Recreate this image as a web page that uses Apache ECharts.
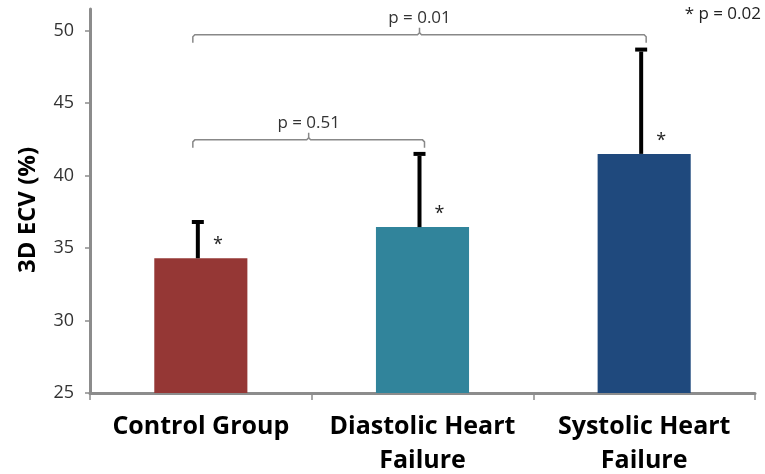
<!DOCTYPE html>
<html>
<head>
<meta charset="utf-8">
<script src="https://cdn.jsdelivr.net/npm/echarts@6/dist/echarts.min.js"></script>
<style>
  html, body { margin: 0; padding: 0; background: #fff; }
  #chart { width: 765px; height: 474px; }
</style>
</head>
<body>
<div id="chart"></div>
<script>
// 数据
const categories = ['Control Group', 'Diastolic Heart\nFailure', 'Systolic Heart\nFailure']
const means = [34.3, 36.45, 41.5]
const errTops = [36.8, 41.5, 48.7]
const barColors = ['#953735', '#31849B', '#1F497D']
// brackets: [from index, to index, y value, label]
const brackets = [
  [0, 2, 49.72, 'p = 0.01'],
  [0, 1, 42.47, 'p = 0.51']
]
const yTicks = [25, 30, 35, 40, 45, 50]

const chart = echarts.init(document.getElementById('chart'))

const axisGray = '#8c8c8c'
const font = 'Open Sans'

function renderErr(params, api) {
  const base = api.coord([api.value(0), api.value(1)])
  const top = api.coord([api.value(0), api.value(2)])
  const x = base[0] - 3
  return {
    type: 'group',
    children: [
      { type: 'line', shape: { x1: x, y1: base[1], x2: x, y2: top[1] + 2 }, style: { stroke: '#000', lineWidth: 4 } },
      { type: 'rect', shape: { x: x - 6, y: top[1] - 2, width: 12, height: 4 }, style: { fill: '#000' } },
      { type: 'text', x: base[0] + 17, y: base[1] - 13, style: { text: '*', fill: '#222', font: '18px ' + font, align: 'center', verticalAlign: 'middle' } }
    ]
  }
}

function renderBracket(params, api) {
  const l = api.coord([api.value(0), api.value(2)])
  const r = api.coord([api.value(1), api.value(2)])
  const y = l[1]
  const lx = l[0] - 8
  const rx = r[0] + 2
  const mid = (lx + rx) / 2
  const st = { stroke: '#888', lineWidth: 1.5, fill: null }
  return {
    type: 'group',
    children: [
      { type: 'polyline', shape: { points: [[lx, y + 8], [lx, y + 2], [lx + 2, y], [mid - 2, y], [mid, y - 2], [mid, y - 7]] }, style: st },
      { type: 'polyline', shape: { points: [[mid, y - 2], [mid + 2, y], [rx - 2, y], [rx, y + 2], [rx, y + 8]] }, style: st },
      { type: 'text', x: mid, y: y - 8, style: { text: brackets[params.dataIndex][3], fill: '#333', font: '17px ' + font, align: 'center', verticalAlign: 'bottom' } }
    ]
  }
}

const option = {
  animation: false,
  grid: { left: 90, right: 10, top: 9, bottom: 81, outerBoundsMode: 'none' },
  xAxis: {
    type: 'category',
    data: categories,
    axisLine: { lineStyle: { color: axisGray, width: 3 } },
    axisTick: { show: true, length: 7, lineStyle: { color: axisGray, width: 1.5 } },
    axisLabel: { interval: 0, hideOverlap: false, color: '#000', fontFamily: font, fontWeight: 'bold', fontSize: 25, lineHeight: 34, margin: 17 }
  },
  yAxis: {
    type: 'value',
    min: 25,
    max: 51.5,
    interval: 5,
    name: '3D ECV (%)',
    nameLocation: 'middle',
    nameGap: 50,
    nameTextStyle: { color: '#000', fontFamily: font, fontWeight: 'bold', fontSize: 24, padding: [0, 18, 0, 0] },
    axisLine: { show: true, lineStyle: { color: axisGray, width: 3 } },
    axisTick: { show: true, length: 5, lineStyle: { color: axisGray, width: 1.5 } },
    splitLine: { show: false },
    axisLabel: {
      color: '#333', fontFamily: font, fontSize: 18, margin: 16, showMaxLabel: false,
      formatter: v => (yTicks.includes(v) ? String(v) : '')
    }
  },
  series: [
    {
      type: 'bar',
      barWidth: '42%',
      data: means.map((v, i) => ({ value: v, itemStyle: { color: barColors[i] } }))
    },
    {
      type: 'custom',
      renderItem: renderErr,
      data: means.map((v, i) => [i, v, errTops[i]]),
      z: 5
    },
    {
      type: 'custom',
      renderItem: renderBracket,
      data: brackets.map(b => [b[0], b[1], b[2]]),
      clip: false,
      z: 5
    }
  ],
  graphic: [
    { type: 'text', right: 4, top: 6, style: { text: '* p = 0.02', fill: '#222', font: '17px ' + font } }
  ]
}

chart.setOption(option)
</script>
</body>
</html>
